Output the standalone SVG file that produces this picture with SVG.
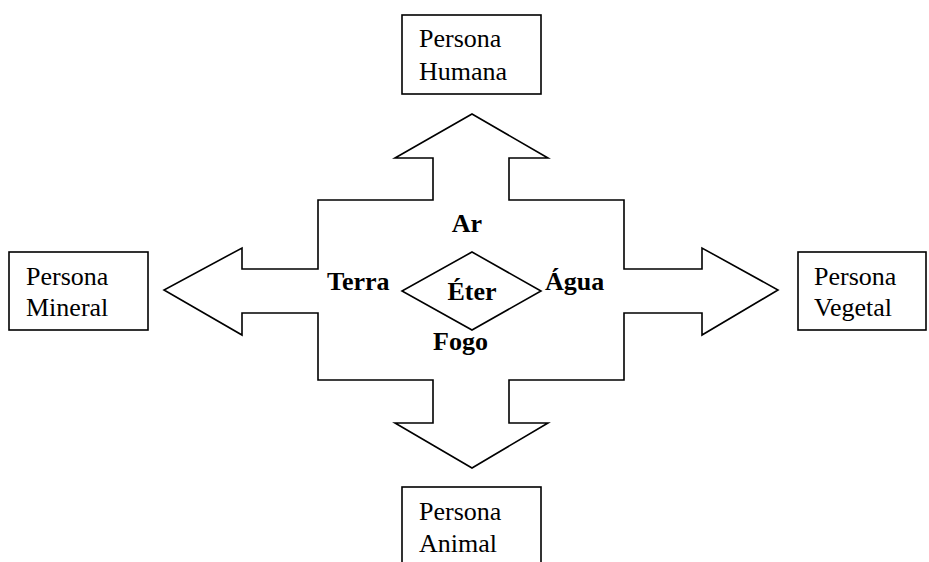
<svg xmlns="http://www.w3.org/2000/svg" width="929" height="562" viewBox="0 0 929 562">
<style>
.box{fill:#fff;stroke:#000;stroke-width:1.6}
.shape{fill:#fff;stroke:#000;stroke-width:1.6;stroke-linejoin:miter}
.t{font-family:"Liberation Serif","Times New Roman",serif;font-size:26px;fill:#000}
.b{font-family:"Liberation Serif","Times New Roman",serif;font-size:26px;font-weight:bold;fill:#000}
</style>
<rect width="929" height="562" fill="#fff"/>
<g id="connectors">
<path class="shape" d="M472,114 L548,158 L509,158 L509,200 L624,200 L624,269 L702,269 L702,248 L778,290 L702,335 L702,313 L624,313 L624,380 L509,380 L509,423 L548,423 L472,468 L395,423 L433,423 L433,380 L318,380 L318,313 L242,313 L242,335 L164,290 L242,248 L242,269 L318,269 L318,200 L433,200 L433,158 L395,158 Z"/>
</g>
<g id="eter">
<polygon class="shape" points="472,252 541,291 472,330 402,291"/>
<text class="b" x="472" y="300" text-anchor="middle">Éter</text>
</g>
<g id="ar"><text class="b" x="467" y="232" text-anchor="middle">Ar</text></g>
<g id="terra"><text class="b" x="327" y="290">Terra</text></g>
<g id="agua"><text class="b" x="545" y="290">Água</text></g>
<g id="fogo"><text class="b" x="433" y="350">Fogo</text></g>
<g id="humana">
<rect class="box" x="402" y="15" width="139" height="79"/>
<text class="t" x="419" y="47">Persona</text>
<text class="t" x="419" y="80">Humana</text>
</g>
<g id="mineral">
<rect class="box" x="9" y="252" width="139" height="78"/>
<text class="t" x="26" y="285">Persona</text>
<text class="t" x="26" y="316">Mineral</text>
</g>
<g id="vegetal">
<rect class="box" x="798" y="252" width="128" height="78"/>
<text class="t" x="814" y="285">Persona</text>
<text class="t" x="814" y="316">Vegetal</text>
</g>
<g id="animal">
<rect class="box" x="402" y="487" width="139" height="80"/>
<text class="t" x="419" y="520">Persona</text>
<text class="t" x="419" y="552">Animal</text>
</g>
</svg>
